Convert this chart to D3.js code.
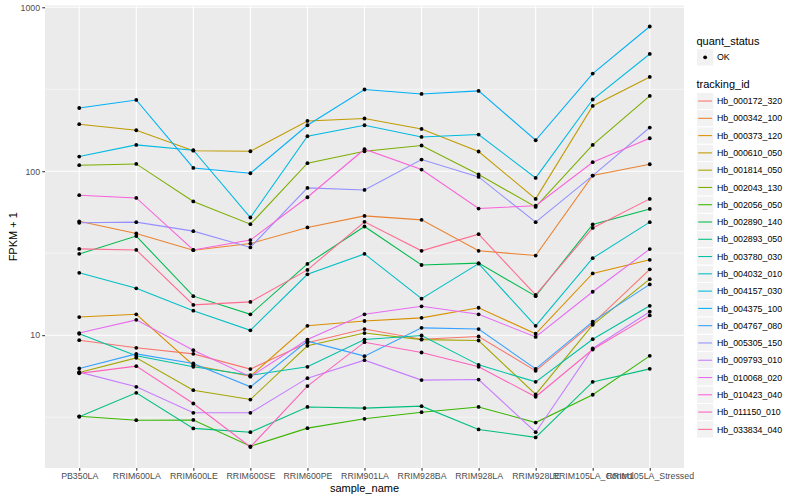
<!DOCTYPE html>
<html><head><meta charset="utf-8">
<script src="https://cdn.jsdelivr.net/npm/d3@7"></script>
<style>
body{margin:0;background:#fff}
text{font-family:"Liberation Sans",Arial,Helvetica,sans-serif}
</style>
</head><body>
<svg id="chart" width="800" height="500"></svg>
<script>
// ---- data ----
const samples = ["PB350LA","RRIM600LA","RRIM600LE","RRIM600SE","RRIM600PE","RRIM901LA","RRIM928BA","RRIM928LA","RRIM928LE","RRIM105LA_Control","RRIM105LA_Stressed"];
const trackingIds = ["Hb_000172_320","Hb_000342_100","Hb_000373_120","Hb_000610_050","Hb_001814_050","Hb_002043_130","Hb_002056_050","Hb_002890_140","Hb_002893_050","Hb_003780_030","Hb_004032_010","Hb_004157_030","Hb_004375_100","Hb_004767_080","Hb_005305_150","Hb_009793_010","Hb_010068_020","Hb_010423_040","Hb_011150_010","Hb_033834_040"];
const palette = ["#F8766D","#EA8331","#D89000","#C09B00","#A3A500","#7CAE00","#39B600","#00BB4E","#00BF7D","#00C1A3","#00BFC4","#00BAE0","#00B0F6","#35A2FF","#9590FF","#C77CFF","#E76BF3","#FA62DB","#FF62BC","#FF6C91"];

const Hb_000172_320 = [9.32, 8.37, 7.69, 6.21, 8.98, 10.9, 9.45, 9.82, 6.06, 11.8, 25.2];
const Hb_000342_100 = [49.5, 41.7, 33.0, 36.2, 45.4, 53.4, 50.5, 32.7, 30.6, 94.1, 110.3];
const Hb_000373_120 = [12.9, 13.4, 6.56, 5.62, 11.4, 12.2, 12.75, 14.7, 10.2, 23.8, 28.8];
const Hb_000610_050 = [193.5, 177.8, 133.4, 132.4, 202.6, 209.6, 181.1, 131.9, 67.8, 250, 375.8];
const Hb_001814_050 = [5.92, 7.27, 4.62, 4.05, 8.61, 10.3, 9.39, 9.28, 4.35, 11.56, 21.95];
const Hb_002043_130 = [108.8, 110.8, 65.4, 47.5, 111.9, 132.4, 143.5, 95.5, 60.6, 144.7, 287.8];
const Hb_002056_050 = [3.2, 3.03, 3.04, 2.1, 2.71, 3.09, 3.39, 3.65, 2.93, 4.33, 7.48];
const Hb_002890_140 = [31.3, 40.2, 17.3, 13.4, 27.2, 46.0, 26.8, 27.5, 17.3, 47.3, 58.9];
const Hb_002893_050 = [3.18, 4.45, 2.70, 2.56, 3.65, 3.59, 3.69, 2.66, 2.38, 5.19, 6.23];
const Hb_003780_030 = [10.2, 7.48, 6.41, 5.70, 6.41, 9.4, 9.96, 6.59, 5.19, 9.45, 15.1];
const Hb_004032_010 = [24.0, 19.3, 14.1, 10.7, 23.5, 31.3, 16.7, 27.3, 11.4, 29.5, 48.9];
const Hb_004157_030 = [122.9, 144.7, 134.3, 52.2, 163.5, 190.7, 161.9, 167.4, 91.0, 273.7, 519];
const Hb_004375_100 = [243, 272, 104.7, 97.2, 190.7, 315, 296, 309, 154.5, 394, 763];
const Hb_004767_080 = [6.26, 7.69, 6.72, 4.84, 9.19, 7.45, 11.08, 10.9, 6.23, 12.1, 20.4];
const Hb_005305_150 = [48.5, 48.9, 43.1, 34.3, 79.1, 76.9, 117.8, 92.3, 48.9, 94.1, 184.7];
const Hb_009793_010 = [5.95, 4.84, 3.36, 3.36, 5.47, 7.04, 5.32, 5.36, 2.56, 8.30, 13.9];
const Hb_010068_020 = [10.3, 12.4, 8.1, 5.58, 9.4, 13.4, 15.0, 13.4, 9.76, 18.4, 33.5];
const Hb_010423_040 = [71.4, 68.7, 33.1, 38.0, 69.4, 136.2, 102.4, 59.2, 61.6, 113.5, 158.9];
const Hb_011150_010 = [5.85, 6.47, 3.83, 2.08, 4.89, 9.06, 7.84, 6.41, 4.21, 8.18, 13.2];
const Hb_033834_040 = [33.6, 33.1, 15.3, 15.96, 25.0, 49.1, 32.7, 41.3, 17.6, 45.1, 67.8];

const yTicks = [10, 100, 1000];
const yTickLabels = ["10", "100", "1000"];
const yMinorTicks = [Math.sqrt(10), Math.sqrt(1000), Math.sqrt(100000)];

const seriesValues = [Hb_000172_320,Hb_000342_100,Hb_000373_120,Hb_000610_050,Hb_001814_050,Hb_002043_130,Hb_002056_050,Hb_002890_140,Hb_002893_050,Hb_003780_030,Hb_004032_010,Hb_004157_030,Hb_004375_100,Hb_004767_080,Hb_005305_150,Hb_009793_010,Hb_010068_020,Hb_010423_040,Hb_011150_010,Hb_033834_040];
const series = trackingIds.map((id, i) => ({id, color: palette[i], values: seriesValues[i].map((v, j) => ({sample: samples[j], value: v}))}));

// ---- layout ----
const panel = {left: 45, right: 684, top: 5.5, bottom: 468};
const svg = d3.select("#chart");

const x = d3.scalePoint().domain(samples).range([panel.left, panel.right]).padding(0.6);
const allVals = seriesValues.flat();
const lmin = Math.log10(d3.min(allVals)), lmax = Math.log10(d3.max(allVals));
const ex = (lmax - lmin) * 0.05;
const y = d3.scaleLog().domain([Math.pow(10, lmin - ex), Math.pow(10, lmax + ex)]).range([panel.bottom, panel.top]);

// panel background
svg.append("rect").attr("x", panel.left).attr("y", panel.top)
  .attr("width", panel.right - panel.left).attr("height", panel.bottom - panel.top)
  .attr("fill", "#EBEBEB");

const grid = svg.append("g");
grid.selectAll("line.minor").data(yMinorTicks).join("line")
  .attr("x1", panel.left).attr("x2", panel.right)
  .attr("y1", d => y(d)).attr("y2", d => y(d))
  .attr("stroke", "#fff").attr("stroke-width", 0.53);
grid.selectAll("line.major").data(yTicks).join("line")
  .attr("x1", panel.left).attr("x2", panel.right)
  .attr("y1", d => y(d)).attr("y2", d => y(d))
  .attr("stroke", "#fff").attr("stroke-width", 1.07);
grid.selectAll("line.vx").data(samples).join("line")
  .attr("x1", d => x(d)).attr("x2", d => x(d))
  .attr("y1", panel.top).attr("y2", panel.bottom)
  .attr("stroke", "#fff").attr("stroke-width", 1.07);

// lines
const line = d3.line().x(d => x(d.sample)).y(d => y(d.value));
svg.append("g").selectAll("path").data(series).join("path")
  .attr("d", d => line(d.values)).attr("fill", "none")
  .attr("stroke", d => d.color).attr("stroke-width", 1.07);

// points
svg.append("g").selectAll("g").data(series).join("g")
  .selectAll("circle").data(d => d.values).join("circle")
  .attr("cx", d => x(d.sample)).attr("cy", d => y(d.value)).attr("r", 1.9).attr("fill", "#000");

// axes
const yAxis = d3.axisLeft(y).tickValues(yTicks).tickFormat((d, i) => yTickLabels[i]).tickSize(2.74).tickPadding(2.2);
const gy = svg.append("g").attr("transform", `translate(${panel.left},0)`).call(yAxis);
const xAxis = d3.axisBottom(x).tickSize(2.74).tickPadding(2.2);
const gx = svg.append("g").attr("transform", `translate(0,${panel.bottom})`).call(xAxis);
[gy, gx].forEach(g => {
  g.select(".domain").remove();
  g.selectAll(".tick line").attr("stroke", "#333333").attr("stroke-width", 1.07);
  g.selectAll(".tick text").attr("fill", "#4D4D4D").style("font-size", "8.8px")
    .style("font-family", '"Liberation Sans",Arial,Helvetica,sans-serif');
});

// axis titles
svg.append("text").attr("x", (panel.left + panel.right) / 2).attr("y", 491.5)
  .attr("text-anchor", "middle").style("font-size", "11px").attr("fill", "#000").text("sample_name");
svg.append("text").attr("transform", `translate(16.5,${(panel.top + panel.bottom) / 2}) rotate(-90)`)
  .attr("text-anchor", "middle").style("font-size", "11px").attr("fill", "#000").text("FPKM + 1");

// legend
const lg = svg.append("g");
const keyX = 696.5, keyW = 17.28, textX = 717;
lg.append("text").attr("x", keyX).attr("y", 44.5).style("font-size", "11px").text("quant_status");
lg.append("rect").attr("x", keyX).attr("y", 48.7).attr("width", keyW).attr("height", keyW)
  .attr("fill", "#F2F2F2").attr("stroke", "#fff").attr("stroke-width", 1);
lg.append("circle").attr("cx", keyX + keyW / 2).attr("cy", 48.7 + keyW / 2).attr("r", 1.9).attr("fill", "#000");
lg.append("text").attr("x", textX).attr("y", 48.7 + keyW / 2 + 3.15).style("font-size", "8.8px").attr("fill", "#000").text("OK");

lg.append("text").attr("x", keyX).attr("y", 87.8).style("font-size", "11px").text("tracking_id");
const keyTop = 92.4;
const items = lg.selectAll("g.item").data(series).join("g")
  .attr("transform", (d, i) => `translate(0,${keyTop + i * keyW})`);
items.append("rect").attr("x", keyX).attr("y", 0).attr("width", keyW).attr("height", keyW)
  .attr("fill", "#F2F2F2").attr("stroke", "#fff").attr("stroke-width", 1);
items.append("line").attr("x1", keyX + 1.7).attr("x2", keyX + keyW - 1.7)
  .attr("y1", keyW / 2).attr("y2", keyW / 2).attr("stroke", d => d.color).attr("stroke-width", 1.07);
items.append("text").attr("x", textX).attr("y", keyW / 2 + 3.15).style("font-size", "8.8px").attr("fill", "#000").text(d => d.id);
</script>
</body></html>
